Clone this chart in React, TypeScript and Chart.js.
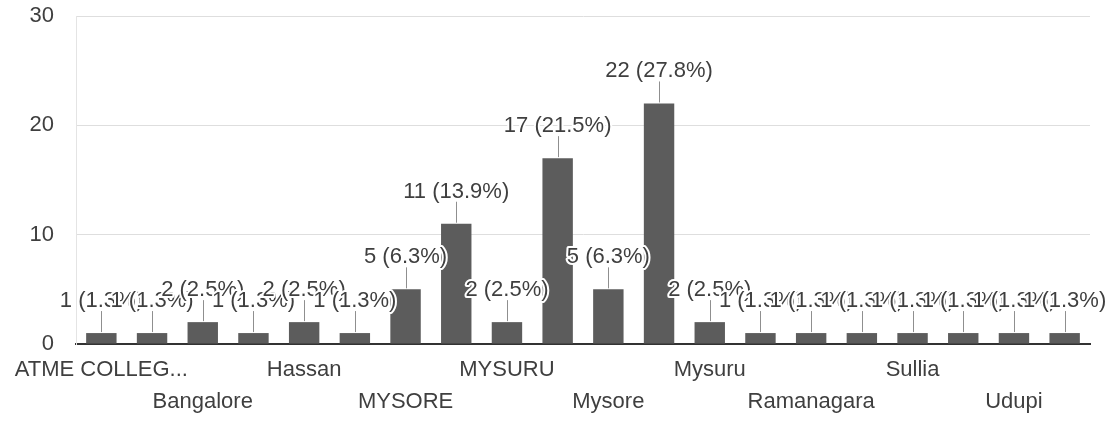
import { useEffect, useRef } from 'react';
import { Chart, registerables } from 'chart.js';

Chart.register(...registerables);

// Responses per location (alphabetical, as the form lists them)
const categories = [
  'ATME COLLEGE OF ENGINEERING',
  'BENGALURU',
  'Bangalore',
  'Chamarajanagar',
  'Hassan',
  'K R Nagar',
  'MYSORE',
  'MYSORE CITY',
  'MYSURU',
  'Mandya',
  'Mysore',
  'Mysore city',
  'Mysuru',
  'Nanjangud',
  'Ramanagara',
  'Shivamogga',
  'Sullia',
  'Tumakuru',
  'Udupi',
  'Vijayapura',
];
const responses = [1, 1, 2, 1, 2, 1, 5, 11, 2, 17, 5, 22, 2, 1, 1, 1, 1, 1, 1, 1];
const yTickValues = [0, 10, 20, 30];

const FONT = "'Liberation Sans', Arial, Helvetica, sans-serif";
const TEXT = '#3f3f3f';

const shorten = (s: string) => (s.length > 14 ? s.slice(0, 11) + '...' : s);

// Draws "count (percent%)" above every bar with a short stem, text haloed in white
const valueLabels = {
  id: 'valueLabels',
  afterDatasetsDraw(chart: any) {
    const ctx = chart.ctx;
    const total = responses.reduce((a, b) => a + b, 0);
    const meta = chart.getDatasetMeta(0);
    meta.data.forEach((bar: any, i: number) => {
      const { x, y } = bar.getProps(['x', 'y'], true);
      const v = responses[i];
      const text = `${v} (${((v / total) * 100).toFixed(1)}%)`;
      ctx.save();
      ctx.strokeStyle = '#8f8f8f';
      ctx.lineWidth = 1;
      ctx.beginPath();
      ctx.moveTo(Math.round(x) + 0.5, y - 1);
      ctx.lineTo(Math.round(x) + 0.5, y - 22);
      ctx.stroke();
      ctx.font = `22px ${FONT}`;
      ctx.textAlign = 'center';
      ctx.textBaseline = 'alphabetic';
      ctx.lineJoin = 'round';
      ctx.strokeStyle = '#ffffff';
      ctx.lineWidth = 4;
      ctx.strokeText(text, x, y - 26);
      ctx.fillStyle = TEXT;
      ctx.fillText(text, x, y - 26);
      ctx.restore();
    });
  },
};

export default function App() {
  const canvasRef = useRef<HTMLCanvasElement | null>(null);

  useEffect(() => {
    const canvas = canvasRef.current;
    if (!canvas) return;
    const chart = new Chart(canvas, {
      type: 'bar',
      data: {
        labels: categories,
        datasets: [
          {
            data: responses,
            backgroundColor: '#5c5c5c',
            borderWidth: 0,
            categoryPercentage: 1,
            barPercentage: 0.6,
          },
        ],
      },
      options: {
        responsive: false,
        animation: false,
        devicePixelRatio: 1,
        layout: { padding: { top: 16, right: 15, bottom: 0, left: 0 } },
        plugins: {
          legend: { display: false },
          tooltip: { enabled: false },
        },
        scales: {
          x: {
            grid: { display: false },
            border: { color: '#333333', width: 2 },
            ticks: {
              autoSkip: false,
              maxRotation: 0,
              minRotation: 0,
              padding: 2,
              color: TEXT,
              font: { family: FONT, size: 22, lineHeight: 1.45 },
              callback: (_v: any, index: number) => {
                if (index % 2 === 1) return '';
                const name = shorten(categories[index]);
                return index % 4 === 0 ? [name] : ['', name];
              },
            },
            afterFit: (scale: any) => {
              scale.height = 80;
            },
          },
          y: {
            min: 0,
            max: 30,
            afterBuildTicks: (scale: any) => {
              scale.ticks = yTickValues.map((v) => ({ value: v }));
            },
            grid: { color: '#dedede', lineWidth: 1, drawTicks: false },
            border: { color: '#e4e4e4', width: 1 },
            ticks: {
              padding: 22,
              color: TEXT,
              font: { family: FONT, size: 22 },
            },
            afterFit: (scale: any) => {
              scale.width = 76;
              scale.paddingTop = 0;
              scale.paddingBottom = 0;
            },
          },
        },
      },
      plugins: [valueLabels],
    });
    return () => chart.destroy();
  }, []);

  return (
    <div style={{ position: 'fixed', left: 0, top: 0, width: 1105, height: 424, background: '#ffffff' }}>
      <canvas ref={canvasRef} width={1105} height={424} style={{ display: 'block' }} />
    </div>
  );
}
